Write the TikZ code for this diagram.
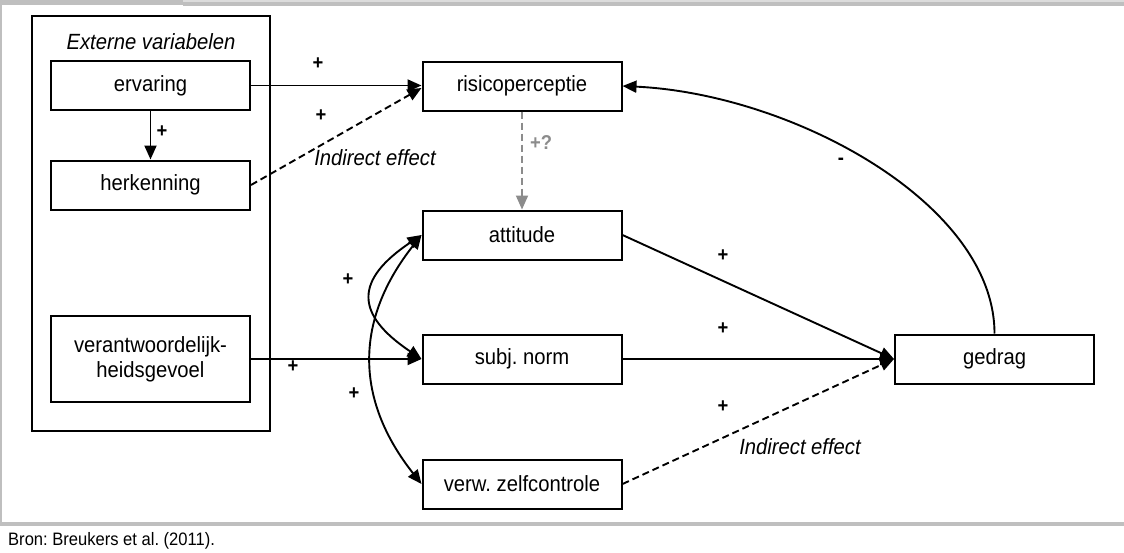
\documentclass[tikz,border=0pt]{standalone}
\usepackage{fontspec}
\setmainfont{Liberation Sans}[FakeStretch=0.92]
\usetikzlibrary{arrows.meta}
\definecolor{framegray}{HTML}{BFBFBF}
\definecolor{lightgraytwo}{HTML}{DCDCDC}
\definecolor{dgray}{HTML}{8C8C8C}
\begin{document}
\frenchspacing
\begin{tikzpicture}[x=1pt,y=-1pt,
 box/.style={draw, line width=2pt, minimum width=199pt, minimum height=49pt, inner sep=0pt, align=center, font=\fontsize{22}{25}\selectfont},
 tipa/.tip={Triangle[length=14pt,width=12pt]},
 conn/.style={line width=1.9pt, -tipa},
 dconn/.style={conn, dash pattern=on 7pt off 4pt},
 bi/.style={line width=1.9pt, tipa-tipa},
 sgn/.style={font=\fontsize{20}{20}\selectfont\bfseries, inner sep=0pt},
 ital/.style={font=\fontsize{22}{22}\selectfont\itshape, inner sep=0pt},
]
\useasboundingbox (0,0) rectangle (1124,552);
% frame
\fill[framegray] (0,0) rectangle (183,5);
\fill[lightgraytwo] (183,0) rectangle (1124,2);
\fill[framegray] (183,2) rectangle (1124,6);
\fill[framegray] (0,0) rectangle (2,526);
\fill[framegray] (0,522) rectangle (1124,526);
\node[anchor=west, font=\fontsize{18}{20}\selectfont, inner sep=0pt] (src) at (8,541) {Bron: Breukers et al. (2011).};

% outer group
\node[draw, line width=2pt, minimum width=238pt, minimum height=415pt, inner sep=0pt] (ext) at (151,223.5) {};
\node[ital] (extlbl) at (151,42) {Externe variabelen};

% boxes
\node[box] (erv) at (150.5,85.5) {ervaring};
\node[box] (herk) at (150.5,185) {herkenning};
\node[box, minimum height=86pt] (verant) at (150.5,359) {verantwoordelijk-\\heidsgevoel};
\node[box] (risico) at (522,86) {risicoperceptie};
\node[box] (att) at (522,235) {attitude};
\node[box] (subj) at (522,359) {subj. norm};
\node[box] (verw) at (522,484) {verw. zelfcontrole};
\node[box] (gedrag) at (994.5,359) {gedrag};

% connectors
\draw[conn] (erv.south) -- (herk.north);
\draw[conn] (erv.east) -- (erv.east -| risico.west);
\draw[dconn] (herk.east) -- ([yshift=-2pt]risico.west);
\draw[conn, dgray, dash pattern=on 7pt off 4pt] (risico.south) -- (att.north);
\draw[conn] (verant.east) -- (subj.west);
\draw[conn] (att.east) -- (gedrag.west);
\draw[conn] (subj.east) -- (gedrag.west);
\draw[dconn] (verw.east) -- (gedrag.west);
\draw[conn] (gedrag.north) .. controls +(0,-130) and +(170,8) .. (risico.east);
\draw[bi] (att.west) .. controls +(-67,45) and +(-67,-45) .. (subj.west);
\draw[bi] (att.west) .. controls +(-67,85) and +(-67,-85) .. (verw.west);

% labels
\node[sgn] (p1) at (162,132) {+};
\node[sgn] (p2) at (318,64) {+};
\node[sgn] (p3) at (321,116) {+};
\node[ital] (ind1) at (375,158) {Indirect effect};
\node[sgn, dgray] (pq) at (541,143) {+?};
\node[sgn] (p4) at (723,256) {+};
\node[sgn] (p5) at (723,329) {+};
\node[sgn] (p6) at (723,407) {+};
\node[ital] (ind2) at (800,447) {Indirect effect};
\node[sgn] (mn) at (841,161) {-};
\node[sgn] (p7) at (348,280) {+};
\node[sgn] (p8) at (354,394) {+};
\node[sgn] (p9) at (293,367) {+};
\end{tikzpicture}
\end{document}
